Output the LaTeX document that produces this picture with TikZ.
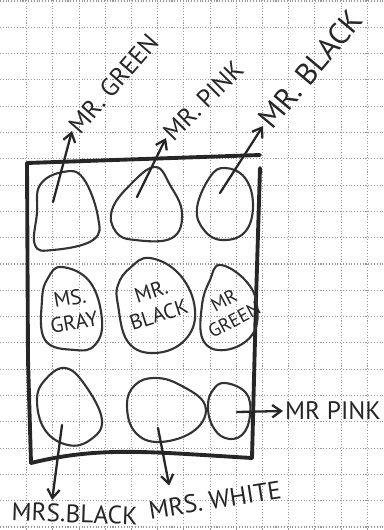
\documentclass[tikz,border=0pt]{standalone}
\usepackage{fontspec}
\setsansfont{PT Sans}
\usetikzlibrary{arrows.meta}
\tikzset{
  gridline/.style={black!40, densely dotted, line width=0.6pt},
  pen/.style={black!80, line width=1.2pt, line cap=round, line join=round},
  frame/.style={black!85, line width=2.2pt, line cap=round, line join=round},
  arr/.style={black!85, line width=1.3pt, line cap=round, -{Straight Barb[length=5pt,width=7pt]}},
  lbl/.style={font=\sffamily\Large, text=black!85, inner sep=1pt},
  inlbl/.style={font=\sffamily\large, text=black!85, align=center, inner sep=0pt}
}
\begin{document}
\begin{tikzpicture}[x=0.02cm, y=-0.02cm]
	\useasboundingbox (0,0) rectangle (383,530);
	\fill[white] (0,0) rectangle (383,530);

	% Grid paper
	\foreach \k in {1,...,14} {
		\draw[gridline] ({0.5+26.2*\k},0) -- ({0.5+26.2*\k},530);
	}
	\foreach \k in {0,...,20} {
		\draw[gridline] (0,{1+26.3*\k}) -- (383,{1+26.3*\k});
	}

	% Box
	\draw[frame] (27,163) -- (260,155);
	\draw[frame] (260,168) -- (256,300) -- (252,458);
	\draw[frame] (27,163) -- (28,360) -- (31,463);
	\draw[frame] (31,463) .. controls (100,446) and (150,452) .. (252,458);

	% Top row
	\draw[pen] plot[smooth cycle, tension=0.7] coordinates {(40,185) (63,172) (83,178) (98,217) (93,240) (53,250) (35,245) (37,213)};
	\draw[pen] plot[smooth cycle, tension=0.7] coordinates {(112,210) (130,185) (155,167) (170,185) (182,213) (172,238) (135,240) (116,232)};
	\draw[pen] plot[smooth cycle, tension=0.7] coordinates {(197,208) (210,177) (225,168) (245,178) (253,205) (245,232) (222,240) (204,230)};

	% Middle row
	\draw[pen] plot[smooth cycle, tension=0.7] coordinates {(62,267) (90,282) (102,320) (95,345) (75,350) (45,340) (42,300) (48,278)};
	\draw[pen] plot[smooth cycle, tension=0.7] coordinates {(150,258) (180,275) (195,310) (185,340) (155,353) (128,342) (118,305) (118,285) (130,268)};
	\draw[pen] plot[smooth cycle, tension=0.7] coordinates {(220,265) (245,280) (257,305) (252,335) (225,350) (203,340) (202,305) (210,280)};

	% Bottom row
	\draw[pen] plot[smooth cycle, tension=0.7] coordinates {(65,368) (85,385) (102,420) (90,440) (68,445) (45,430) (37,400) (45,380)};
	\draw[pen] plot[smooth cycle, tension=0.7] coordinates {(155,378) (180,385) (205,405) (195,430) (160,442) (135,432) (127,405) (135,385)};
	\draw[pen] plot[smooth cycle, tension=0.7] coordinates {(225,383) (246,393) (250,415) (242,435) (225,438) (212,425) (208,405) (213,390)};

	% Names inside
	\node[inlbl, rotate=10] (gray) at (72,310) {MS.\\GRAY};
	\node[inlbl, rotate=18] (blackin) at (155,303) {MR.\\BLACK};
	\node[inlbl, rotate=28, scale=0.9] (greenin) at (229,310) {MR\\GREEN};

	% Arrow starts
	\coordinate (sA) at (53,202);
	\coordinate (sB) at (137,197);
	\coordinate (sC) at (220,193);
	\coordinate (sD) at (62,425);
	\coordinate (sE) at (158,428);
	\coordinate (sF) at (237,412);

	% Labels
	\node[lbl, rotate=49, anchor=west] (lgreen) at (72,131) {MR. GREEN};
	\node[lbl, rotate=45, anchor=west] (lpink) at (166,138) {MR. PINK};
	\node[lbl, rotate=50, anchor=west, scale=1.2] (lblack) at (263,126) {MR. BLACK};
	\node[lbl, anchor=north west, rotate=-2] (lmrsblack) at (10,500) {MRS.BLACK};
	\node[lbl, rotate=9] (lwhite) at (215,500) {MRS. WHITE};
	\node[lbl, anchor=west] (lpinkr) at (283,411) {MR PINK};

	% Arrows
	\draw[arr] (sA) -- (lgreen.west);
	\draw[arr] (sB) -- (lpink.west);
	\draw[arr] (sC) -- (lblack.west);
	\draw[arr] (sD) -- ([xshift=24pt]lmrsblack.north west);
	\draw[arr] (sE) -- ([shift={(24,-14)}]lwhite.north west);
	\draw[arr] (sF) -- (lpinkr.west);
\end{tikzpicture}
\end{document}
